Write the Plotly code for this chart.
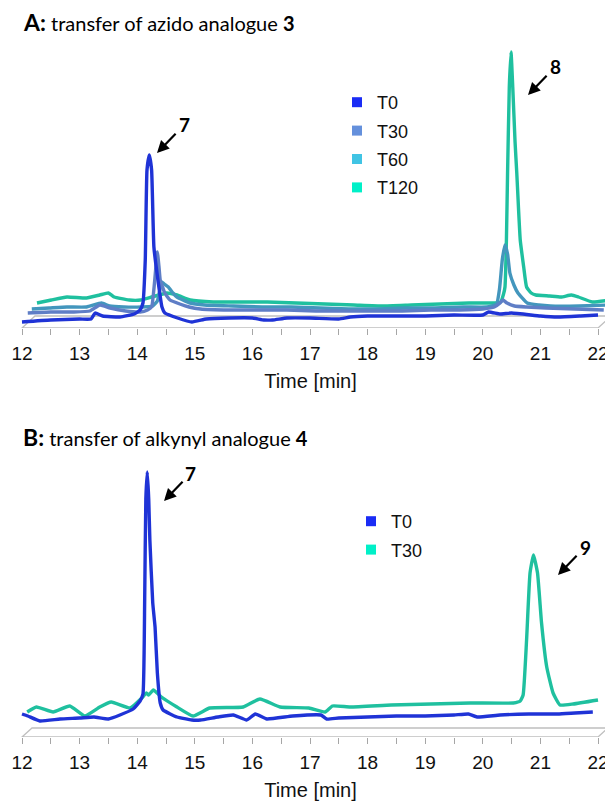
import plotly.graph_objects as go

# ---------------- Data (retention time in min, detector signal in a.u.) ----------------
# Panel A: transfer of azido analogue 3
A_T0_t = [12.0, 12.5, 13.0, 13.2, 13.27, 13.4, 13.7, 13.95, 14.05, 14.1, 14.14, 14.17, 14.21, 14.25,
          14.29, 14.36, 14.43, 14.48, 14.7, 14.95, 15.2, 15.6, 16.0, 16.2, 16.35, 16.6, 17.0, 17.5,
          17.7, 18.0, 18.5, 19.0, 19.5, 20.0, 20.1, 20.3, 20.5, 21.0, 21.3, 21.7, 22.0]
A_T0_s = [-2, 0, 1, 1, 7, 4, 3, 6, 10, 17, 60, 150, 165, 150,
          73, 40, 13, 7, 2, -2, 1, 2, 2, 0, 0, 2, 2, 1,
          3, 4, 4, 4, 5, 5, 8, 6, 7, 4, 3, 4, 5]

A_T30_t = [12.0, 12.4, 12.8, 13.08, 13.25, 13.43, 13.7, 13.95, 14.08, 14.15, 14.2, 14.25, 14.28, 14.3,
           14.38, 14.47, 14.64, 14.8, 15.0, 15.5, 16.0, 16.5, 17.0, 17.5, 18.0, 18.5, 19.0, 19.5,
           19.9, 20.1, 20.2, 20.25, 20.32, 20.45, 20.66, 21.0, 21.5, 22.0]
A_T30_s = [0, 1, 1, 2, 8, 5, 2, 1, 3, 6, 30, 61, 45, 33,
           20, 13, 9, 6, 4, 3, 3, 3, 2, 2, 2, 2, 3, 3,
           4, 6, 10, 13, 10, 7, 6, 5, 4, 3]

A_T60_t = [12.0, 12.3, 12.61, 12.95, 13.21, 13.35, 13.6, 13.9, 14.1, 14.18, 14.22, 14.255, 14.3, 14.37,
           14.45, 14.52, 14.75, 15.0, 15.5, 16.0, 16.5, 17.0, 17.5, 18.0, 18.5, 19.0, 19.5, 19.9,
           20.07, 20.12, 20.17, 20.215, 20.26, 20.3, 20.37, 20.44, 20.6, 20.8, 21.0, 21.5, 22.0]
A_T60_s = [0, 1, 2, 2, 6, 3, 2, 2, 3, 8, 18, 27, 25, 22,
           16, 12, 6, 4, 3, 2, 2, 1, 0, 0, 1, 1, 2, 2,
           5, 20, 50, 64, 55, 36, 24, 16, 6, 4, 3, 3, 4]

A_T120_t = [12.0, 12.25, 12.52, 12.86, 13.09, 13.24, 13.34, 13.6, 13.8, 13.99, 14.12, 14.25, 14.43, 14.66,
            15.06, 15.5, 16.0, 16.5, 17.0, 17.5, 18.0, 18.5, 19.0, 19.5, 19.9, 20.05, 20.1, 20.125,
            20.15, 20.17, 20.2, 20.23, 20.26, 20.3, 20.33, 20.39, 20.45, 20.5, 20.58, 20.66, 20.9, 21.1,
            21.28, 21.4, 21.64, 21.96]
A_T120_s = [-1, 2, 5, 4, 7, 9, 5, 2, 2, 5, 7, 9, 7, 2,
            0, 0, 0, -1, -2, -3, -4, -3, -2, -1, -1, 0, 8, 15,
            62, 129, 215, 250, 215, 160, 129, 62, 35, 15, 9, 7, 6, 5,
            7, 5, 0, 2]

# Panel B: transfer of alkynyl analogue 4
B_T0_t = [12.0, 12.1, 12.31, 12.66, 13.0, 13.25, 13.5, 13.7, 13.93, 14.05, 14.1, 14.13, 14.15, 14.175,
          14.2, 14.22, 14.27, 14.31, 14.35, 14.4, 14.45, 14.69, 14.95, 15.1, 15.4, 15.67, 15.9, 16.05,
          16.25, 16.7, 17.19, 17.29, 17.5, 18.0, 18.5, 19.0, 19.5, 19.75, 19.9, 20.3, 20.8, 21.3,
          21.6, 21.91]
B_T0_s = [5, 3, -2, 0, 1, 2, 0, 4, 10, 18, 25, 120, 220, 247,
          220, 179, 116, 92, 46, 16, 9, 2, -1, -1, 2, 4, -1, 5,
          0, 3, 4, 0, 1, 2, 3, 3, 4, 5, 2, 4, 5, 5,
          6, 7]

B_T30_t = [12.0, 12.16, 12.45, 12.74, 13.0, 13.26, 13.46, 13.79, 13.99, 14.07, 14.11, 14.19, 14.33, 14.6,
           14.88, 15.17, 15.75, 16.04, 16.39, 16.89, 17.17, 17.3, 17.61, 18.32, 19.01, 19.69, 20.44, 20.56,
           20.61, 20.67, 20.73, 20.79, 20.86, 20.93, 21.02, 21.13, 21.25, 21.48, 21.91]
B_T30_s = [0, 5, 0, 6, -4, 5, 10, 4, 14, 19, 17, 22, 15, 5,
           -4, 4, 5, 13, 5, 4, 0, 6, 5, 7, 8, 9, 9, 11,
           17, 72, 139, 157, 139, 89, 45, 19, 7, 8, 12]

TICK_VALUES = [12, 13, 14, 15, 16, 17, 18, 19, 20, 21, 22]
TICK_LABELS = ["12", "13", "14", "15", "16", "17", "18", "19", "20", "21", "22"]

PEAKS_A = [("7", 14.21), ("8", 20.23)]
PEAKS_B = [("7", 14.175), ("9", 20.79)]

# ---------------- Style ----------------
OFF = 8                      # page body margin
W, H = 613 - OFF, 804 - OFF
PX_PER_MIN = 57.6
A_LINE = {"T0": "#1f33d6", "T30": "#5f7ec6", "T60": "#4396bd", "T120": "#1fc09f"}
A_LEG = {"T0": "#1a2cf5", "T30": "#6490dc", "T60": "#40c4e4", "T120": "#00f0c8"}
B_LINE = {"T0": "#1f33d6", "T30": "#1fc09f"}
B_LEG = {"T0": "#1a2cf5", "T30": "#00f0c8"}
# pseudo-3D depth shift per series (min, px)
A_DEPTH = {"T0": (0.0, 8), "T30": (0.10, 15), "T60": (0.17, 19), "T120": (0.26, 26)}
B_DEPTH = {"T0": (0.0, 18), "T30": (0.09, 25)}
A_FLOOR = (0.226, 12)
B_FLOOR = (0.174, 9)

X12 = 22 - OFF
XR = [12 - X12 / PX_PER_MIN, 22 + (W - X12 - 10 * PX_PER_MIN) / PX_PER_MIN]
A_BOT, A_TOP = 328, 40
B_BOT, B_TOP = 737, 455

def fy(ypx):
    return 1 - (ypx - OFF) / H

def fx(xpx):
    return (xpx - OFF) / W

fig = go.Figure()

def add_panel(series, depth, lcol, gcol, xref, yref, legend):
    names = list(series.keys())
    for name in reversed(names):
        t, s = series[name]
        dx, dy = depth[name]
        fig.add_trace(go.Scatter(
            x=[v + dx for v in t], y=[v + dy for v in s], mode="lines",
            line=dict(color=lcol[name], width=3.4, shape="spline", smoothing=0.4),
            xaxis=xref, yaxis=yref, showlegend=False, name=name, hoverinfo="skip"))
    for name in names:
        fig.add_trace(go.Scatter(
            x=[None], y=[None], mode="markers", name=name,
            marker=dict(symbol="square", size=10, color=gcol[name]),
            xaxis=xref, yaxis=yref, legend=legend, legendgroup=legend + name, showlegend=True))

add_panel({"T0": (A_T0_t, A_T0_s), "T30": (A_T30_t, A_T30_s),
           "T60": (A_T60_t, A_T60_s), "T120": (A_T120_t, A_T120_s)},
          A_DEPTH, A_LINE, A_LEG, "x", "y", "legend")
add_panel({"T0": (B_T0_t, B_T0_s), "T30": (B_T30_t, B_T30_s)},
          B_DEPTH, B_LINE, B_LEG, "x2", "y2", "legend2")

def floor(xref, yref, fdx, fdy):
    pts = [(12, 0), (22, 0), (22 + fdx, fdy), (12 + fdx, fdy)]
    path = "M " + " L ".join(f"{a},{b}" for a, b in pts) + " Z"
    fig.add_shape(type="path", path=path, xref=xref, yref=yref,
                  line=dict(color="#bfbfbf", width=1.3), fillcolor="rgba(0,0,0,0)", layer="below")

floor("x", "y", *A_FLOOR)
floor("x2", "y2", *B_FLOOR)

axis_common = dict(range=XR, showgrid=False, zeroline=False, showline=False,
                   tickvals=TICK_VALUES, ticktext=TICK_LABELS, ticks="outside", ticklen=6,
                   tickcolor="#a6a6a6", tickwidth=1.2,
                   minor=dict(dtick=0.5, tick0=12, ticks="outside", ticklen=6,
                              tickcolor="#a6a6a6", tickwidth=1.2),
                   tickfont=dict(family="Liberation Sans, Arial", size=19, color="#111"),
                   ticklabelstandoff=2,
                   title=dict(text="Time [min]", font=dict(family="Liberation Sans, Arial", size=20,
                                                          color="#111"), standoff=11),
                   automargin=False, fixedrange=True)

leg_common = dict(xanchor="left", yanchor="top", bgcolor="rgba(0,0,0,0)",
                  font=dict(family="Liberation Sans, Arial", size=18, color="#111"),
                  tracegroupgap=2, itemclick=False, itemdoubleclick=False)

fig.update_layout(
    width=W, height=H, margin=dict(l=0, r=0, t=0, b=0),
    paper_bgcolor="white", plot_bgcolor="white",
    xaxis=dict(domain=[0, 1], anchor="y", **axis_common),
    yaxis=dict(domain=[fy(A_BOT), fy(A_TOP)], range=[0, A_BOT - A_TOP], visible=False, fixedrange=True),
    xaxis2=dict(domain=[0, 1], anchor="y2", **axis_common),
    yaxis2=dict(domain=[fy(B_BOT), fy(B_TOP)], range=[0, B_BOT - B_TOP], visible=False, fixedrange=True),
    legend=dict(x=fx(337), y=fy(84), **leg_common),
    legend2=dict(x=fx(351), y=fy(503), **leg_common),
    showlegend=True,
)

title_font = "Lato, Carlito, Calibri, sans-serif"
fig.add_annotation(text="<b>A:</b><span style='font-size:20px'> transfer of azido analogue </span><b><span style='font-size:20px'>3</span></b>",
                   xref="paper", yref="paper", x=fx(21), y=fy(22), xanchor="left", yanchor="middle",
                   showarrow=False, font=dict(family=title_font, size=23, color="#000"))
fig.add_annotation(text="<b>B:</b><span style='font-size:20px'> transfer of alkynyl analogue </span><b><span style='font-size:20px'>4</span></b>",
                   xref="paper", yref="paper", x=fx(21), y=fy(437), xanchor="left", yanchor="middle",
                   showarrow=False, font=dict(family=title_font, size=23, color="#000"))

def peak_label(label, t, xref, yref, head_dt, head_y):
    fig.add_annotation(text=f"<b>{label}</b>", x=t + head_dt, y=head_y, xref=xref, yref=yref,
                       ax=27, ay=-28, showarrow=True, arrowhead=2, arrowsize=1.1, arrowwidth=2.2,
                       arrowcolor="#000", standoff=0, startstandoff=2,
                       font=dict(family=title_font, size=19, color="#000"))

peak_label(PEAKS_A[0][0], PEAKS_A[0][1], "x", "y", 0.134, 175)
peak_label(PEAKS_A[1][0], PEAKS_A[1][1], "x", "y", 0.555, 233)
peak_label(PEAKS_B[0][0], PEAKS_B[0][1], "x2", "y2", 0.29, 236)
peak_label(PEAKS_B[1][0], PEAKS_B[1][1], "x2", "y2", 0.516, 162)

fig.write_html("out.html")
